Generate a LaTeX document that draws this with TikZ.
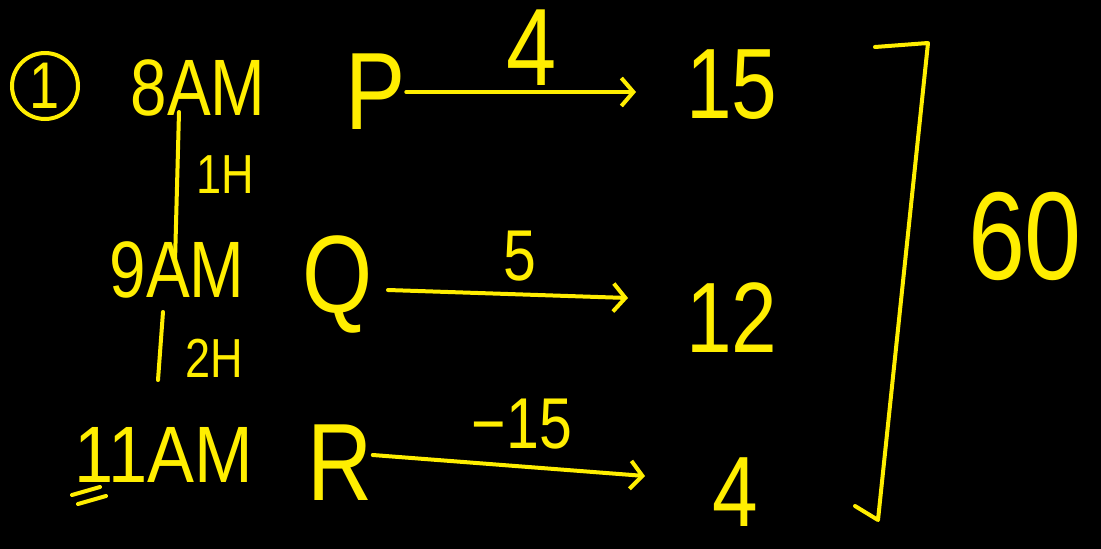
\documentclass[tikz,border=0pt]{standalone}
\usepackage{fontspec}
\setmainfont{Liberation Sans}
\usetikzlibrary{arrows.meta}
\definecolor{hand}{RGB}{255,238,0}
\newcommand{\nar}[1]{\scalebox{0.82}[1]{#1}}
\begin{document}
\begin{tikzpicture}[x=1pt,y=-1pt,
  txt/.style={text=hand,inner sep=0pt,anchor=center},
  pen/.style={draw=hand,line width=4pt,line cap=round,line join=round},
  arr/.style={pen,-{Straight Barb[length=12pt,width=28pt,line width=4pt]}}]
\fill[black] (0,0) rectangle (1101,549);
\useasboundingbox (0,0) rectangle (1101,549);
% circled number
\node[txt,circle,draw=hand,line width=4pt,minimum size=66pt,font=\fontsize{66}{66}\selectfont] (n1) at (45,86) {\nar{1}};
% times
\node[txt,font=\fontsize{80}{90}\selectfont] (t8) at (198,88) {\nar{8AM}};
\node[txt,font=\fontsize{80}{90}\selectfont] (t9) at (177,270) {\nar{9AM}};
\node[txt,font=\fontsize{80}{90}\selectfont] (t11) at (164,455) {\scalebox{0.88}[1]{11AM}};
\coordinate (u1) at (72,495);
\coordinate (u2) at (100,487);
\coordinate (u3) at (78,504);
\coordinate (u4) at (106,496);
\draw[pen] (u1) -- (u2);
\draw[pen] (u3) -- (u4);
% durations
\coordinate (a1) at (179,112);
\coordinate (a2) at (175,262);
\draw[pen] (a1) -- (a2);
\node[txt,font=\fontsize{55}{60}\selectfont] (h1) at (225,175) {\nar{1H}};
\coordinate (b1) at (163,312);
\coordinate (b2) at (158,380);
\draw[pen] (b1) -- (b2);
\node[txt,font=\fontsize{55}{60}\selectfont] (h2) at (214,358) {\nar{2H}};
% letters
\node[txt,font=\fontsize{110}{120}\selectfont] (P) at (376,92) {\nar{P}};
\node[txt,font=\fontsize{110}{120}\selectfont] (Q) at (338,284) {\nar{Q}};
\node[txt,font=\fontsize{110}{120}\selectfont] (R) at (340,463) {\nar{R}};
% values
\node[txt,font=\fontsize{100}{110}\selectfont] (v15) at (732,85) {\nar{15}};
\node[txt,font=\fontsize{100}{110}\selectfont] (v12) at (732,318) {\nar{12}};
\node[txt,font=\fontsize{100}{110}\selectfont] (v4) at (735,492) {\nar{4}};
% arrows
\coordinate (p1) at (376,92);
\coordinate (p2) at (636,92);
\draw[arr] (P.east |- p1) -- (p2);
\node[txt,font=\fontsize{110}{120}\selectfont] (l4) at (532,48) {\nar{4}};
\coordinate (q1) at (388,290);
\coordinate (q2) at (628,298);
\draw[arr] (q1) -- (q2);
\node[txt,font=\fontsize{72}{80}\selectfont] (l5) at (520,256) {\nar{5}};
\coordinate (r1) at (376,455);
\coordinate (r2) at (645,476);
\draw[arr] (R.east |- r1) -- (r2);
\node[txt,font=\fontsize{72}{80}\selectfont] (l15) at (522,424) {\nar{\char"2212 15}};
% bracket
\coordinate (k1) at (875,47);
\coordinate (k2) at (928,43);
\coordinate (k3) at (878,520);
\coordinate (k4) at (855,506);
\draw[pen] (k1) -- (k2) -- (k3) -- (k4);
\node[txt,font=\fontsize{125}{130}\selectfont] (s60) at (1025,236) {\nar{60}};
\end{tikzpicture}
\end{document}
